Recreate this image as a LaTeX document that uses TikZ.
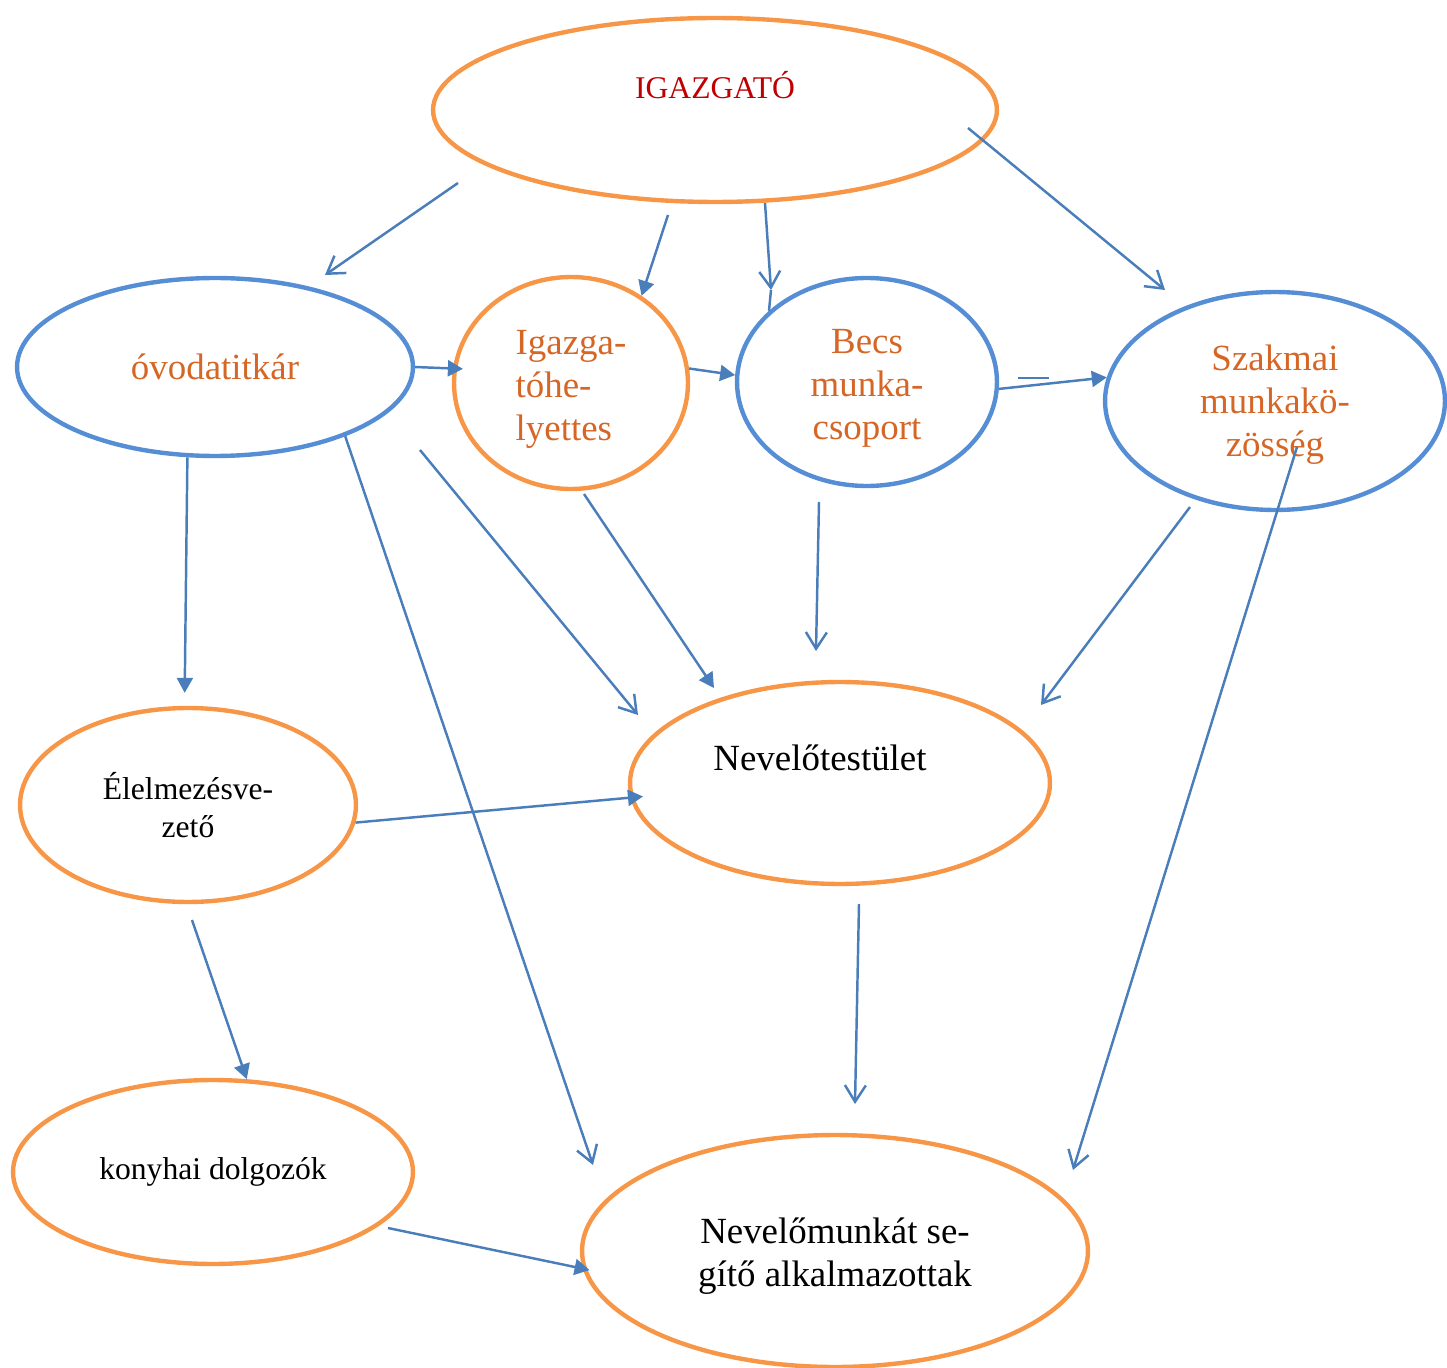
\documentclass[tikz,border=0pt]{standalone}
\usepackage{fontspec}
\setmainfont{Liberation Serif}
\usetikzlibrary{shapes.geometric,arrows.meta}

\definecolor{ovalorange}{RGB}{247,150,70}
\definecolor{ovalblue}{RGB}{85,142,213}
\definecolor{arrowblue}{RGB}{74,126,187}
\definecolor{textorange}{RGB}{213,102,38}
\definecolor{textred}{RGB}{192,0,0}

\begin{document}
\begin{tikzpicture}[
  x=0.02cm, y=-0.02cm,
  orangeoval/.style={
        draw=ovalorange,
        ellipse,
        line width=2.5pt,
        inner sep=0pt,
        align=center
  },
  blueoval/.style={
        draw=ovalblue,
        ellipse,
        line width=2.5pt,
        inner sep=0pt,
        align=center,
        text=textorange
  },
  bigfont/.style={font=\fontsize{21}{24.5}\selectfont},
  smallfont/.style={font=\fontsize{18}{21.5}\selectfont},
  blueline/.style={draw=arrowblue, line width=1.4pt},
  openarrow/.style={blueline, -{Straight Barb[length=0.33cm,width=0.42cm]}},
  fillarrow/.style={blueline, -{Triangle[length=0.3cm,width=0.32cm]}}
]

    \useasboundingbox (0,0) rectangle (1447,1368);

    \node[orangeoval, minimum width=11.28cm, minimum height=3.68cm,
          label={[text=textred, smallfont, yshift=0.5cm]center:IGAZGATÓ}] (igazgato) at (715,110) {};
    \node[blueoval, bigfont, minimum width=7.92cm, minimum height=3.56cm] (titkar) at (215,367) {óvodatitkár};
    \node[orangeoval, minimum width=4.68cm, minimum height=4.24cm,
          label={[bigfont, text=textorange, align=left, yshift=-0.12cm]center:Igazga-\\tóhe-\\lyettes}] (helyettes) at (571,383) {};
    \node[blueoval, minimum width=5.2cm, minimum height=4.16cm,
          label={[bigfont, text=textorange, align=center, yshift=-0.12cm]center:Becs\\munka-\\csoport}] (becs) at (867,382) {};
    \node[blueoval, minimum width=6.8cm, minimum height=4.36cm,
          label={[bigfont, text=textorange, align=center, yshift=-0.08cm]center:Szakmai\\munkakö-\\zösség}] (szakmai) at (1275,401) {};
    \node[orangeoval, smallfont, minimum width=6.72cm, minimum height=3.88cm] (elelmezes) at (188,805) {Élelmezésve-\\zető};
    \node[orangeoval, minimum width=8.4cm, minimum height=4.04cm,
          label={[bigfont, xshift=-0.4cm, yshift=0.5cm]center:Nevelőtestület}] (testulet) at (840,783) {};
    \node[orangeoval, smallfont, minimum width=8cm, minimum height=3.68cm] (konyha) at (213,1172) {konyhai dolgozók};
    \node[orangeoval, minimum width=10.12cm, minimum height=4.64cm,
          label={[bigfont, align=center, yshift=-0.1cm]center:Nevelőmunkát se-\\gítő alkalmazottak}] (segito) at (835,1251) {};

    \coordinate (p1) at (458,183);
    \coordinate (p2) at (325,275);
    \coordinate (p3) at (668,215);
    \coordinate (p4) at (765,203);
    \coordinate (p5) at (771,290);
    \coordinate (p6) at (968,128);
    \coordinate (p7) at (1165,290);
    \coordinate (p8) at (1018,378);
    \coordinate (p9) at (1049,378);
    \coordinate (p10) at (593,1165);
    \coordinate (p11) at (420,450);
    \coordinate (p12) at (638,715);
    \coordinate (p13) at (584,494);
    \coordinate (p14) at (714,688);
    \coordinate (p15) at (819,502);
    \coordinate (p16) at (816,651);
    \coordinate (p17) at (1190,507);
    \coordinate (p18) at (1041,705);
    \coordinate (p19) at (1297,447);
    \coordinate (p20) at (1073,1170);
    \coordinate (p21) at (192,920);
    \coordinate (p22) at (859,904);
    \coordinate (p23) at (855,1104);
    \coordinate (p24) at (388,1228);

    \draw[openarrow] (p1) -- (p2);
    \draw[fillarrow] (p3) -- (helyettes.51);
    \draw[openarrow] (p4) -- (p5);
    \draw[blueline] (p5) -- (becs.144);
    \draw[openarrow] (p6) -- (p7);
    \draw[fillarrow, shorten >=-0.2cm] (titkar.east) -- (helyettes.173);
    \draw[fillarrow] (helyettes.7) -- (becs.177);
    \draw[fillarrow] (becs.-3) -- (szakmai.172);
    \draw[blueline] (p8) -- (p9);
    \draw[fillarrow, shorten >=0.26cm] (titkar.253) -- (elelmezes.92);
    \draw[openarrow] (titkar.-28) -- (p10);
    \draw[openarrow] (p11) -- (p12);
    \draw[fillarrow] (p13) -- (p14);
    \draw[openarrow] (p15) -- (p16);
    \draw[openarrow] (p17) -- (p18);
    \draw[openarrow] (p19) -- (p20);
    \draw[fillarrow, shorten >=-0.26cm] (elelmezes.-6) -- (testulet.184);
    \draw[fillarrow] (p21) -- (konyha.70);
    \draw[openarrow] (p22) -- (p23);
    \draw[fillarrow, shorten >=-0.14cm] (p24) -- (segito.184);
\end{tikzpicture}
\end{document}
